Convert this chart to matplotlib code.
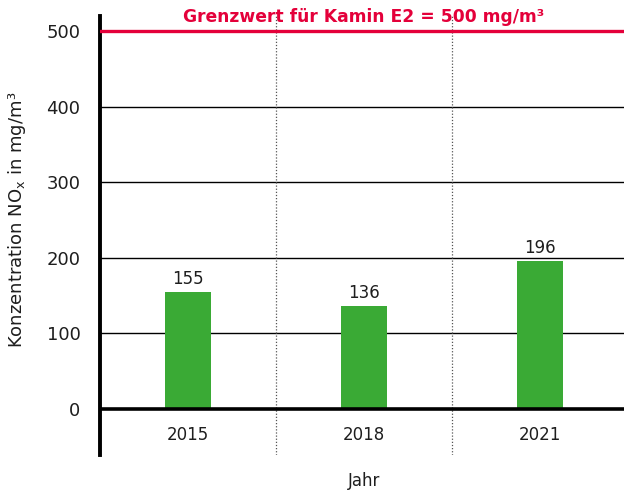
import matplotlib
matplotlib.use("Agg")
import matplotlib.pyplot as plt

years = ["2015", "2018", "2021"]
values = [155, 136, 196]
limit = 500
yticks = [0, 100, 200, 300, 400, 500]

plt.rcParams['font.family'] = ['DejaVu Sans']
plt.rcParams['mathtext.fontset'] = 'dejavusans'

W, H = 624, 490
fig = plt.figure(figsize=(W/100, H/100), dpi=100)
# axes pixel box: left 100, right 628, top 16, bottom 455
ax = fig.add_axes([100/W, (H-455)/H, 528/W, (455-16)/H])
ax.set_xlim(-0.5, 2.5)
ax.set_ylim(-61, 520)

green = "#3aaa35"
red = "#e4003a"
txt = "#1e1e1e"

x = list(range(len(years)))
ax.bar(x, values, width=0.26, color=green, zorder=3)
for xi, v in zip(x, values):
    ax.text(xi, v + 5, str(v), ha="center", va="bottom", fontsize=12, color=txt, zorder=4)

for t in yticks[1:-1]:
    ax.axhline(t, color="black", lw=1.0, zorder=1)
ax.axhline(0, color="black", lw=2.6, zorder=4)
ax.axhline(limit, color=red, lw=2.4, zorder=4)

for d in [0.5, 1.5]:
    ax.axvline(d, color="#555555", lw=0.9, ls=(0, (1, 1.5)), zorder=2)

for s in ["top", "right", "bottom"]:
    ax.spines[s].set_visible(False)
ax.spines["left"].set_linewidth(2.8)
ax.spines["left"].set_color("black")

ax.set_yticks(yticks)
ax.set_yticklabels([str(t) for t in yticks], fontsize=13, color=txt)
ax.tick_params(axis="y", length=0, pad=14)
ax.set_xticks([])

for xi, yr in zip(x, years):
    ax.text(xi, -35, yr, ha="center", va="center", fontsize=12, color=txt)

ax.text(1, 519, "Grenzwert für Kamin E2 = 500 mg/m³", ha="center", va="center",
        fontsize=12.3, fontweight="bold", color=red, zorder=5)

fig.text(364/W, 1 - 481/H, "Jahr", ha="center", va="center", fontsize=12, color=txt)
fig.text(17/W, 1 - 220/H, r"Konzentration NO$_\mathregular{x}$ in mg/m³", rotation=90,
         ha="center", va="center", fontsize=13, color=txt)

fig.savefig("out.png", dpi=100)
